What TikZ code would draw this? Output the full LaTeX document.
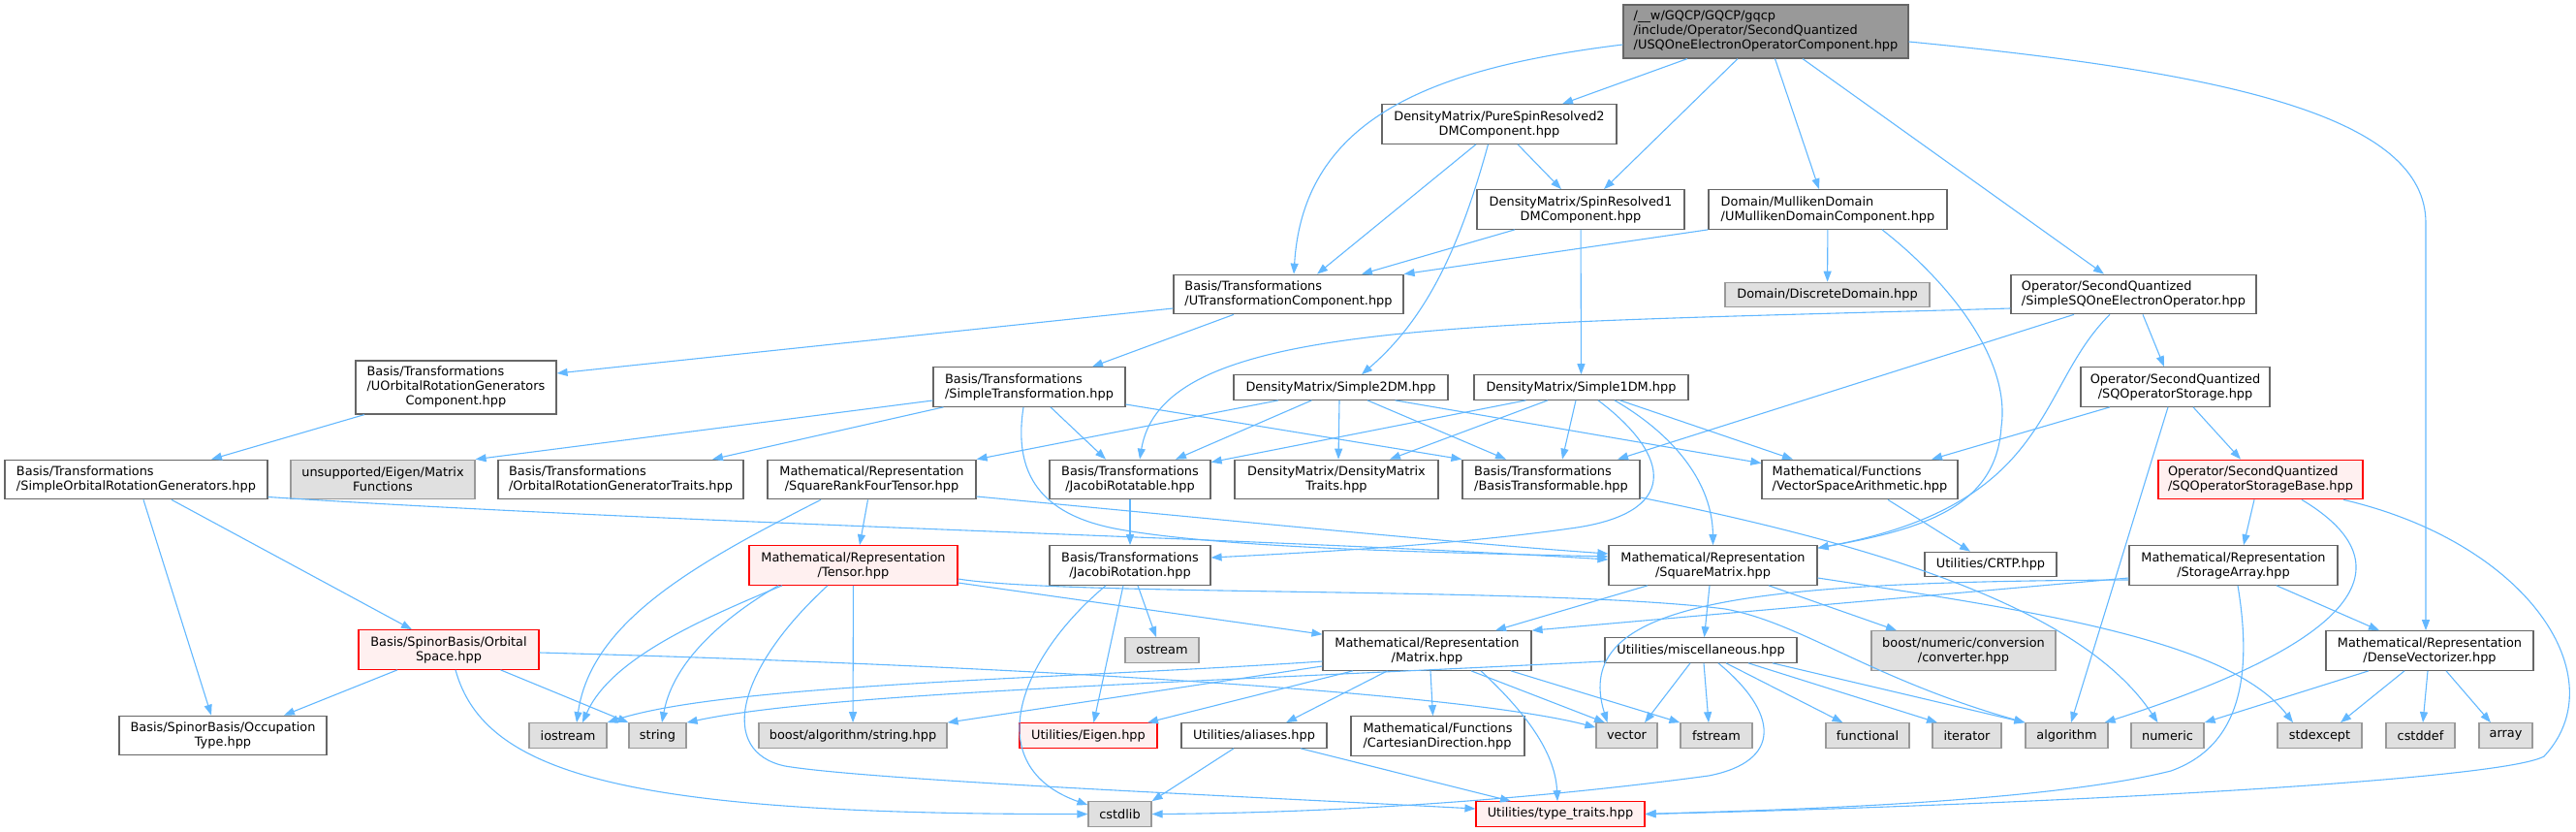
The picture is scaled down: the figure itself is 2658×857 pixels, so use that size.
\documentclass[tikz,border=0pt]{standalone}
\usepackage{fontspec}
\setmainfont{DejaVu Sans}
\usetikzlibrary{arrows.meta}

\definecolor{edgeblue}{HTML}{63B8FF}
\definecolor{boxline}{HTML}{666666}
\definecolor{sysfill}{HTML}{E0E0E0}
\definecolor{sysline}{HTML}{999999}
\definecolor{redfill}{HTML}{FFF0F0}
\definecolor{topfill}{HTML}{999999}

\tikzset{
  incbox/.style={draw=boxline, fill=white, line width=1.2pt, inner sep=0pt,
    minimum height=25.5pt, font=\fontsize{12.9}{15}\selectfont, align=center},
  sysbox/.style={incbox, draw=sysline, fill=sysfill},
  redbox/.style={incbox, draw=red, fill=redfill},
  topbox/.style={incbox, fill=topfill},
  dbl/.style={minimum height=40.5pt},
  trpl/.style={minimum height=55pt},
  incl/.style={draw=edgeblue, line width=1.1pt, -{Triangle[length=11pt,width=8pt]}}
}

\begin{document}
\begin{tikzpicture}[x=1pt, y=-1pt]
    \useasboundingbox (0,0) rectangle (2658,857);

    % rank 0 to 3
    \node[topbox, trpl, minimum width=294pt, align=left] (main) at (1822,32.5)
      {/\_\_w/GQCP/GQCP/gqcp\\/include/Operator/SecondQuantized\\/USQOneElectronOperatorComponent.hpp};
    \node[incbox, dbl, minimum width=242pt] (pure2) at (1547,128) {DensityMatrix/PureSpinResolved2\\DMComponent.hpp};
    \node[incbox, dbl, minimum width=214pt] (sr1) at (1631,216) {DensityMatrix/SpinResolved1\\DMComponent.hpp};
    \node[incbox, dbl, minimum width=246pt, align=left] (umull) at (1886,216) {Domain/MullikenDomain\\/UMullikenDomainComponent.hpp};
    \node[incbox, dbl, minimum width=237pt, align=left] (utrans) at (1329.5,303.5) {Basis/Transformations\\/UTransformationComponent.hpp};
    \node[sysbox, minimum width=211pt] (ddom) at (1885.5,304) {Domain/DiscreteDomain.hpp};
    \node[incbox, dbl, minimum width=253pt, align=left] (ssq) at (2201.5,303.5) {Operator/SecondQuantized\\/SimpleSQOneElectronOperator.hpp};

    % rank 4
    \node[incbox, trpl, minimum width=207pt] (uorg) at (470.5,399.5)
      {\begin{tabular}{@{}l@{}}Basis/Transformations\\/UOrbitalRotationGenerators\\\multicolumn{1}{@{}c@{}}{Component.hpp}\end{tabular}};
    \node[incbox, dbl, minimum width=198pt, align=left] (stran) at (1062,399) {Basis/Transformations\\/SimpleTransformation.hpp};
    \node[incbox, minimum width=221pt] (s2dm) at (1383.5,399.5) {DensityMatrix/Simple2DM.hpp};
    \node[incbox, minimum width=221pt] (s1dm) at (1631.5,399.5) {DensityMatrix/Simple1DM.hpp};
    \node[incbox, dbl, minimum width=195pt] (sqst) at (2244.5,399) {Operator/SecondQuantized\\/SQOperatorStorage.hpp};

    % rank 5
    \node[incbox, dbl, minimum width=271pt, align=left] (sorg) at (140.5,494.5) {Basis/Transformations\\/SimpleOrbitalRotationGenerators.hpp};
    \node[sysbox, dbl, minimum width=190pt] (unsup) at (395,494.5) {unsupported/Eigen/Matrix\\Functions};
    \node[incbox, dbl, minimum width=253pt, align=left] (orgt) at (640.5,494.5) {Basis/Transformations\\/OrbitalRotationGeneratorTraits.hpp};
    \node[incbox, dbl, minimum width=215pt] (sr4) at (899.5,494.5) {Mathematical/Representation\\/SquareRankFourTensor.hpp};
    \node[incbox, dbl, minimum width=166pt] (jrot) at (1166,494.5) {Basis/Transformations\\/JacobiRotatable.hpp};
    \node[incbox, dbl, minimum width=210pt] (dmt) at (1379,494.5) {DensityMatrix/DensityMatrix\\Traits.hpp};
    \node[incbox, dbl, minimum width=183pt, align=left] (btr) at (1600.5,494.5) {Basis/Transformations\\/BasisTransformable.hpp};
    \node[incbox, dbl, minimum width=202pt, align=left] (vsa) at (1919,494.5) {Mathematical/Functions\\/VectorSpaceArithmetic.hpp};
    \node[redbox, dbl, minimum width=211pt, align=left] (sqsb) at (2332.5,494.5) {Operator/SecondQuantized\\/SQOperatorStorageBase.hpp};

    % rank 6
    \node[redbox, dbl, minimum width=215pt] (tens) at (880.5,583) {Mathematical/Representation\\/Tensor.hpp};
    \node[incbox, dbl, minimum width=166pt] (jrn) at (1166,583) {Basis/Transformations\\/JacobiRotation.hpp};
    \node[incbox, dbl, minimum width=215pt] (sqm) at (1767.5,583) {Mathematical/Representation\\/SquareMatrix.hpp};
    \node[incbox, minimum width=136pt] (crtp) at (2054,582) {Utilities/CRTP.hpp};
    \node[incbox, dbl, minimum width=215pt] (stor) at (2304.5,583) {Mathematical/Representation\\/StorageArray.hpp};

    % rank 7
    \node[redbox, dbl, minimum width=186pt] (ospc) at (463,670) {Basis/SpinorBasis/Orbital\\Space.hpp};
    \node[sysbox, minimum width=76pt] (ostr) at (1199,670.5) {ostream};
    \node[incbox, dbl, minimum width=215pt] (mat) at (1472.5,671) {Mathematical/Representation\\/Matrix.hpp};
    \node[incbox, minimum width=198pt] (misc) at (1755,670.5) {Utilities/miscellaneous.hpp};
    \node[sysbox, dbl, minimum width=190pt] (conv) at (2026,671) {boost/numeric/conversion\\/converter.hpp};
    \node[incbox, dbl, minimum width=214pt] (dvec) at (2507,671) {Mathematical/Representation\\/DenseVectorizer.hpp};

    % rank 8
    \node[incbox, dbl, minimum width=214pt] (occ) at (230,758.5) {Basis/SpinorBasis/Occupation\\Type.hpp};
    \node[sysbox, minimum width=80pt] (iost) at (586,758.5) {iostream};
    \node[sysbox, minimum width=59pt] (strg) at (678.5,758.5) {string};
    \node[sysbox, minimum width=194pt] (bstr) at (880,758.5) {boost/algorithm/string.hpp};
    \node[redbox, minimum width=142pt] (eig) at (1123,758.5) {Utilities/Eigen.hpp};
    \node[incbox, minimum width=150pt] (alia) at (1294,758.5) {Utilities/aliases.hpp};
    \node[incbox, dbl, minimum width=179pt, align=left] (cart) at (1483.5,759) {Mathematical/Functions\\/CartesianDirection.hpp};
    \node[sysbox, minimum width=63pt] (vec) at (1678.5,758.5) {vector};
    \node[sysbox, minimum width=74pt] (fstr) at (1771,758.5) {fstream};
    \node[sysbox, minimum width=86pt] (func) at (1927,758.5) {functional};
    \node[sysbox, minimum width=71pt] (iter) at (2029.5,758.5) {iterator};
    \node[sysbox, minimum width=85pt] (algo) at (2132.5,758.5) {algorithm};
    \node[sysbox, minimum width=75pt] (nume) at (2236.5,758.5) {numeric};
    \node[sysbox, minimum width=87pt] (stde) at (2393.5,758.5) {stdexcept};
    \node[sysbox, minimum width=71pt] (csdf) at (2497.5,758.5) {cstddef};
    \node[sysbox, minimum width=55pt] (arr) at (2585.5,758.5) {array};

    % rank 9
    \node[sysbox, minimum width=65pt] (cstd) at (1155.5,839.5) {cstdlib};
    \node[redbox, minimum width=174pt] (ttr) at (1610,839.5) {Utilities/type\_traits.hpp};

    % main file
    \draw[incl] ([yshift=-13.5pt]main.west) .. controls (1480,70) and (1345,120) .. ([xshift=5.5pt]utrans.north);
    \draw[incl] ([xshift=-81pt]main.south) -- ([xshift=65pt]pure2.north);
    \draw[incl] ([xshift=-29pt]main.south) -- ([xshift=24pt]sr1.north);
    \draw[incl] ([xshift=9.5pt]main.south) -- ([xshift=-9pt]umull.north);
    \draw[incl] ([xshift=38pt]main.south) -- ([xshift=-30.5pt]ssq.north);
    \draw[incl] ([yshift=-10.5pt]main.east) .. controls (2300,75) and (2503,120) .. (2503,230) -- ([xshift=-4pt]dvec.north);

    % density matrices, domain
    \draw[incl] ([xshift=-24pt]pure2.south) -- ([xshift=29.5pt]utrans.north);
    \draw[incl] ([xshift=19pt]pure2.south) -- ([xshift=-20pt]sr1.north);
    \draw[incl] ([xshift=-11.5pt]pure2.south) .. controls (1505,260) and (1470,330) .. ([xshift=21.5pt]s2dm.north);
    \draw[incl] ([xshift=-68pt]sr1.south) -- ([xshift=75.5pt]utrans.north);
    \draw[incl] (sr1) -- (s1dm);
    \draw[incl] (umull.south west) -- (utrans.north east);
    \draw[incl] (umull) -- (ddom);
    \draw[incl] ([xshift=56pt]umull.south) .. controls (2010,290) and (2075,370) .. (2065,440)
      .. controls (2060,520) and (1990,545) .. ([yshift=-3pt]sqm.north east);

    % operators
    \draw[incl] ([yshift=-14.5pt]ssq.west) .. controls (1500,335) and (1200,330) .. ([xshift=10pt]jrot.north);
    \draw[incl] ([xshift=-61.5pt]ssq.south) -- ([xshift=68.5pt]btr.north);
    \draw[incl] ([xshift=9.5pt]ssq.south) -- ([xshift=-11.5pt]sqst.north);
    \draw[incl] ([xshift=-24.5pt]ssq.south) .. controls (2100,400) and (2120,520) .. ([yshift=-3pt]sqm.north east);
    \draw[incl] ([xshift=-67.5pt]sqst.south) -- ([xshift=74pt]vsa.north);
    \draw[incl] ([xshift=18.5pt]sqst.south) -- ([xshift=-20.5pt]sqsb.north);
    \draw[incl] ([xshift=-7.5pt]sqst.south) -- ([xshift=4.5pt]algo.north);
    \draw[incl] ([xshift=-6.5pt]sqsb.south) -- ([xshift=10.5pt]stor.north);
    \draw[incl] ([xshift=42.5pt]sqsb.south) .. controls (2450,560) and (2500,640) .. ([xshift=-4pt]algo.north east);
    \draw[incl] ([xshift=85.5pt]sqsb.south) .. controls (2610,560) and (2700,700) .. (2625,780)
      .. controls (2580,805) and (2100,830) .. (ttr.east);
    \draw[incl] ([xshift=29pt]vsa.south) -- ([xshift=-21pt]crtp.north);

    % storage array, vectorizer
    \draw[incl] ([yshift=-13pt]stor.west) -- (mat.north east);
    \draw[incl] ([yshift=-15pt]stor.west) .. controls (1800,600) and (1620,620) .. ([xshift=-20pt]vec.north);
    \draw[incl] ([xshift=44.5pt]stor.south) -- ([xshift=-52pt]dvec.north);
    \draw[incl] ([xshift=4.5pt]stor.south) .. controls (2325,700) and (2310,770) .. (2240,795)
      .. controls (2100,830) and (1800,836) .. (ttr.east);
    \draw[incl] ([xshift=-63pt]dvec.south) -- (nume.north east);
    \draw[incl] ([xshift=-26pt]dvec.south) -- ([xshift=21.5pt]stde.north);
    \draw[incl] ([xshift=-2pt]dvec.south) -- ([xshift=2.5pt]csdf.north);
    \draw[incl] ([xshift=17pt]dvec.south) -- ([xshift=-15.5pt]arr.north);

    % square matrix, matrix
    \draw[incl] ([xshift=-67.5pt]sqm.south) -- ([xshift=70.5pt]mat.north);
    \draw[incl] ([xshift=-3.5pt]sqm.south) -- ([xshift=3.5pt]misc.north);
    \draw[incl] ([xshift=57.5pt]sqm.south) -- ([xshift=-69pt]conv.north);
    \draw[incl] ([yshift=-13pt]sqm.east) .. controls (2100,630) and (2300,660) .. ([xshift=-27.5pt]stde.north);
    \draw[incl] ([yshift=-11pt]mat.west) .. controls (1100,700) and (750,705) .. (iost.north east);
    \draw[incl] ([yshift=-16pt]mat.west) -- (bstr.north east);
    \draw[incl] ([xshift=-76.5pt]mat.south) -- ([xshift=61pt]eig.north);
    \draw[incl] ([xshift=-41pt]mat.south) -- ([xshift=33pt]alia.north);
    \draw[incl] ([xshift=3.5pt]mat.south) -- ([xshift=-5pt]cart.north);
    \draw[incl] ([xshift=45.5pt]mat.south) -- ([xshift=-22.5pt]vec.north);
    \draw[incl] ([xshift=86.5pt]mat.south) -- (fstr.north west);
    \draw[incl] ([xshift=55.5pt]mat.south) .. controls (1580,740) and (1605,780) .. ([xshift=-3pt]ttr.north);

    % miscellaneous
    \draw[incl] ([xshift=-11pt]misc.south) -- ([xshift=18.5pt]vec.north);
    \draw[incl] ([xshift=3pt]misc.south) -- ([xshift=-8pt]fstr.north);
    \draw[incl] ([xshift=26pt]misc.south) -- ([xshift=-25.5pt]func.north);
    \draw[incl] ([xshift=49pt]misc.south) -- ([xshift=-30.5pt]iter.north);
    \draw[incl] ([xshift=74pt]misc.south) -- (algo.north west);
    \draw[incl] ([xshift=18pt]misc.south) .. controls (1835,735) and (1840,785) .. (1763,800)
      .. controls (1600,822) and (1400,838) .. (cstd.east);
    \draw[incl] ([yshift=-11.5pt]misc.west) .. controls (1200,705) and (850,715) .. (strg.north east);

    % orbital space, generators
    \draw[incl] ([xshift=-53pt]ospc.south) -- ([xshift=63pt]occ.north);
    \draw[incl] ([xshift=53.5pt]ospc.south) -- (strg.north west);
    \draw[incl] ([xshift=7pt]ospc.south) .. controls (500,800) and (650,840) .. (cstd.west);
    \draw[incl] ([yshift=-3pt]ospc.east) .. controls (1000,685) and (1500,712) .. ([yshift=-5pt]vec.north west);
    \draw[incl] ([xshift=7.5pt]sorg.south) -- ([xshift=-12pt]occ.north);
    \draw[incl] ([xshift=36.5pt]sorg.south) -- ([xshift=-38pt]ospc.north);
    \draw[incl] ([yshift=-18pt]sorg.east) .. controls (700,540) and (1300,555) .. ([yshift=6pt]sqm.west);
    \draw[incl] ([xshift=-94.5pt]uorg.south) -- ([xshift=77.5pt]sorg.north);

    % transformations
    \draw[incl] ([yshift=-14.5pt]utrans.west) -- ([yshift=14.5pt]uorg.east);
    \draw[incl] ([xshift=-56.5pt]utrans.south) -- ([xshift=65pt]stran.north);
    \draw[incl] ([yshift=-14pt]stran.west) -- (unsup.north east);
    \draw[incl] ([xshift=-88.5pt]stran.south) -- ([xshift=94.5pt]orgt.north);
    \draw[incl] ([xshift=22pt]stran.south) -- ([xshift=-25pt]jrot.north);
    \draw[incl] ([yshift=-18pt]stran.east) -- (btr.north west);
    \draw[incl] ([xshift=-6pt]stran.south) .. controls (1045,490) and (1075,530) .. (1150,545)
      .. controls (1260,566) and (1500,570) .. ([yshift=9pt]sqm.west);
    \draw[incl] ([xshift=-4pt]sr4.south) -- ([xshift=6.5pt]tens.north);
    \draw[incl] ([xshift=-52.5pt]sr4.south) .. controls (720,580) and (610,640) .. ([xshift=9pt]iost.north);
    \draw[incl] ([yshift=-17.5pt]sr4.east) .. controls (1200,530) and (1500,560) .. ([yshift=12pt]sqm.west);
    \draw[incl] (jrot) -- (jrn);

    % simple density matrices
    \draw[incl] ([xshift=-64.5pt]s2dm.south) -- (sr4.north east);
    \draw[incl] ([xshift=-30pt]s2dm.south) -- ([xshift=47pt]jrot.north);
    \draw[incl] ([xshift=-1.5pt]s2dm.south) -- ([xshift=2pt]dmt.north);
    \draw[incl] ([xshift=27.5pt]s2dm.south) -- ([xshift=-46.5pt]btr.north);
    \draw[incl] ([xshift=56pt]s2dm.south) -- ([yshift=-4pt]vsa.north west);
    \draw[incl] ([xshift=-57pt]s1dm.south) -- ([yshift=-3pt]jrot.north east);
    \draw[incl] ([xshift=-34.5pt]s1dm.south) -- ([xshift=55pt]dmt.north);
    \draw[incl] ([xshift=-5.5pt]s1dm.south) -- ([xshift=11.5pt]btr.north);
    \draw[incl] ([xshift=17.5pt]s1dm.south) .. controls (1725,470) and (1735,530) .. (1620,545)
      .. controls (1500,562) and (1350,570) .. ([yshift=8pt]jrn.east);
    \draw[incl] ([xshift=34.5pt]s1dm.south) .. controls (1730,450) and (1767,500) .. (sqm.north);
    \draw[incl] ([xshift=40pt]s1dm.south) -- ([xshift=-69pt]vsa.north);
    \draw[incl] ([yshift=-18.5pt]btr.east) .. controls (1950,565) and (2150,630) .. ([xshift=-10pt]nume.north);

    % jacobi rotation, tensor, aliases
    \draw[incl] ([xshift=8pt]jrn.south) -- ([xshift=-6pt]ostr.north);
    \draw[incl] ([xshift=-7pt]jrn.south) -- ([xshift=5.5pt]eig.north);
    \draw[incl] ([xshift=-25pt]jrn.south) .. controls (1050,680) and (1010,790) .. ([yshift=-4pt]cstd.north west);
    \draw[incl] ([xshift=-73.5pt]tens.south) .. controls (720,640) and (630,680) .. ([xshift=15pt]iost.north);
    \draw[incl] ([xshift=-77.5pt]tens.south) .. controls (750,635) and (695,680) .. ([xshift=4.5pt]strg.north);
    \draw[incl] (tens) -- (bstr);
    \draw[incl] ([xshift=-26.5pt]tens.south) .. controls (760,690) and (740,775) .. (810,790)
      .. controls (900,805) and (1300,822) .. ([yshift=5.5pt]ttr.west);
    \draw[incl] ([yshift=-18pt]tens.east) -- ([yshift=-4pt]mat.north west);
    \draw[incl] ([yshift=-14pt]tens.east) .. controls (1100,615) and (1600,605) .. (1780,628)
      .. controls (1858,642) and (1930,700) .. (algo.north west);
    \draw[incl] ([xshift=-21pt]alia.south) -- (cstd.north east);
    \draw[incl] ([xshift=48pt]alia.south) -- ([xshift=-51pt]ttr.north);
\end{tikzpicture}
\end{document}
